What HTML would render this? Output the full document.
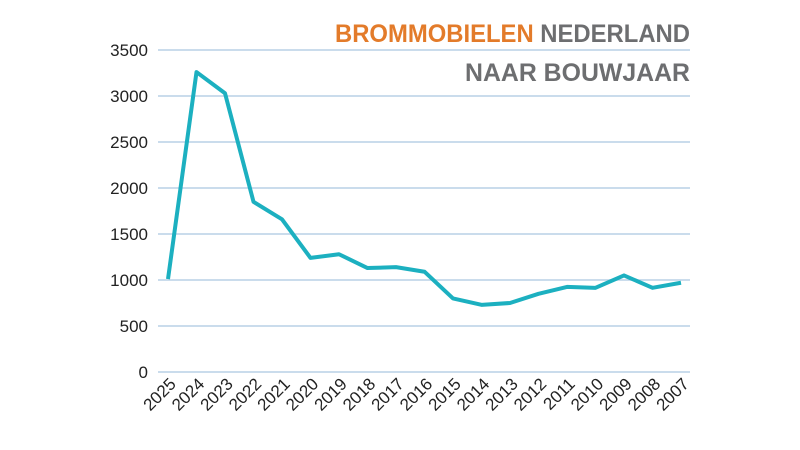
<!DOCTYPE html>
<html><head><meta charset="utf-8"><style>
body{margin:0;background:#fff;width:800px;height:445px;overflow:hidden}
svg{font-family:"Liberation Sans",sans-serif}
</style></head><body>
<svg id="chart" width="800" height="445" viewBox="0 0 800 445">
<g id="grid"></g>
<g id="yticks"></g>
<g id="xticks"></g>
<text x="690" y="42" text-anchor="end" font-size="25" font-weight="bold" fill="#6d6e70" textLength="355" lengthAdjust="spacingAndGlyphs"><tspan fill="#e37b2a">BROMMOBIELEN</tspan> NEDERLAND</text>
<text x="690" y="81" text-anchor="end" font-size="25" font-weight="bold" fill="#6d6e70" textLength="225" lengthAdjust="spacingAndGlyphs">NAAR BOUWJAAR</text>
<path id="line" fill="none" stroke="#1cb0c0" stroke-width="4" stroke-linejoin="round"/>
</svg>
<script>
const years=["2025","2024","2023","2022","2021","2020","2019","2018","2017","2016","2015","2014","2013","2012","2011","2010","2009","2008","2007"];
const values=[1010,3260,3030,1850,1660,1240,1280,1130,1140,1090,800,730,750,850,925,915,1050,915,970];
const yTicks=[0,500,1000,1500,2000,2500,3000,3500];
const NS="http://www.w3.org/2000/svg";
const x0=168,x1=681,y0=372,yTop=50,vmax=3500,gx0=158,gx1=690;
const xs=i=>x0+i*(x1-x0)/(years.length-1);
const ys=v=>y0-v*(y0-yTop)/vmax;
function mk(t,a,p){const e=document.createElementNS(NS,t);for(const k in a)e.setAttribute(k,a[k]);p.appendChild(e);return e;}
const grid=document.getElementById('grid'),yt=document.getElementById('yticks'),xt=document.getElementById('xticks');
yTicks.forEach(v=>{
 const l=mk('line',{x1:gx0,x2:gx1,y1:ys(v),y2:ys(v),stroke:'#b9d0e6','stroke-width':1.5},grid);
 
 
 const t=mk('text',{x:148,y:ys(v)+6,'text-anchor':'end','font-size':17,fill:'#222'},yt);
 t.textContent=v;
 
 
});
years.forEach((y,i)=>{
 const x=xs(i)+9,yy=385;
 const t=mk('text',{x:x,y:yy,'text-anchor':'end','font-size':17,fill:'#222',transform:`rotate(-45 ${x} ${yy})`},xt);
 t.textContent=y;
 
 
});
document.getElementById('line').setAttribute('d',values.map((v,i)=>(i?'L':'M')+xs(i)+' '+ys(v)).join(' '));
</script>
</body></html>
